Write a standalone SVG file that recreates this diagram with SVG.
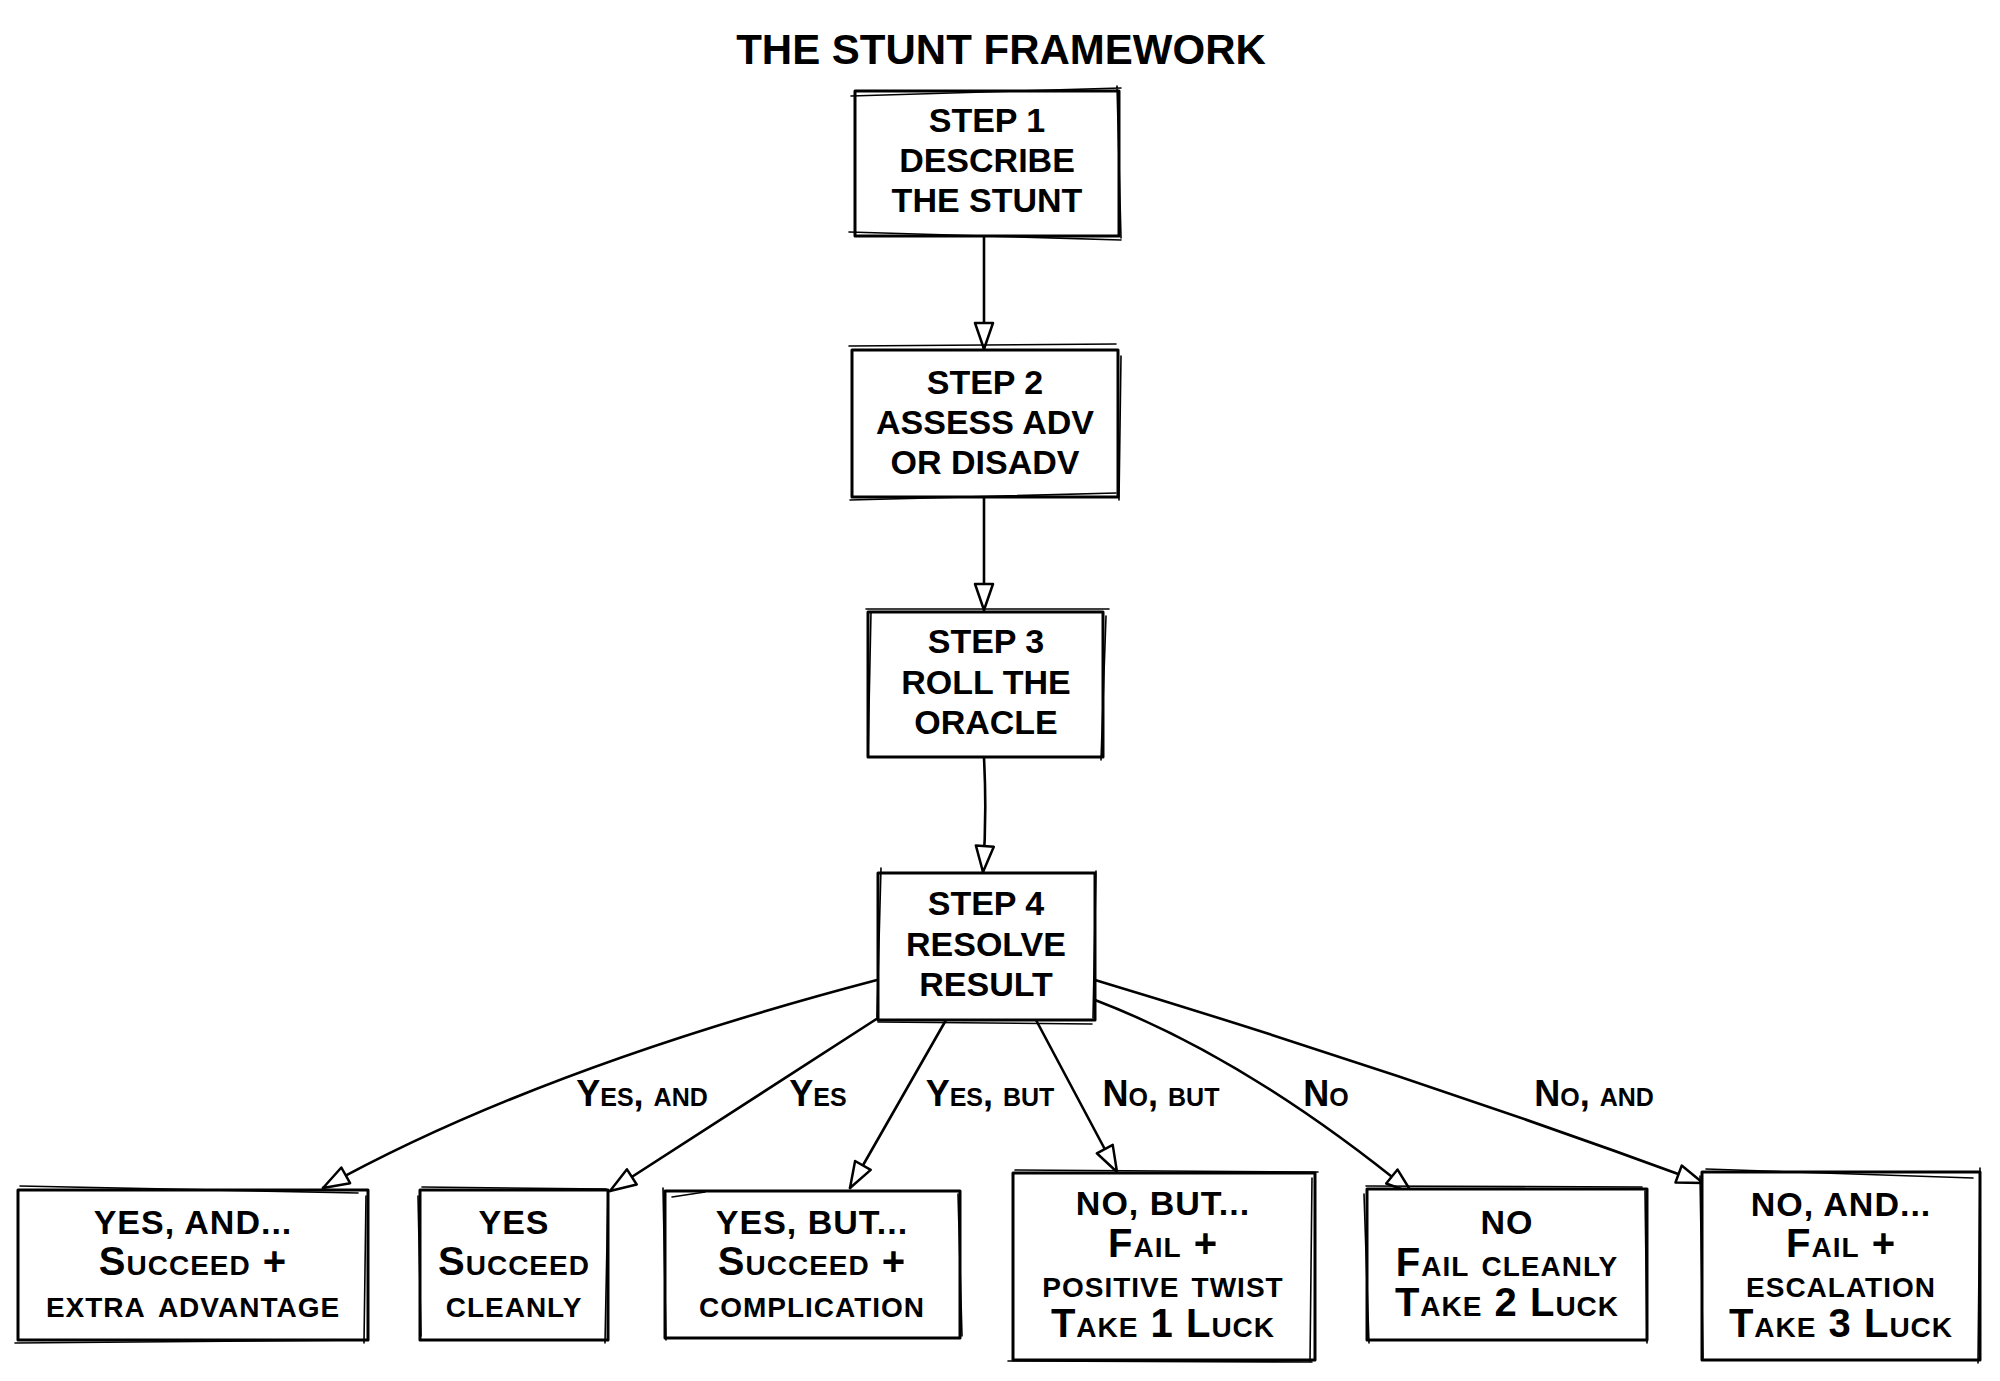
<svg xmlns="http://www.w3.org/2000/svg" width="2000" height="1381" viewBox="0 0 2000 1381">
<style>
.bg{fill:#ffffff}
.box{fill:#ffffff;stroke:#000000;stroke-width:3;stroke-linejoin:round}
.sk{fill:none;stroke:#000000;stroke-width:1.6;stroke-linecap:round}
.t{font-family:"Liberation Sans","Open Sans",sans-serif;font-weight:700;fill:#000000;text-anchor:middle}
.title{font-size:42px}
.step{font-size:34px}
.res{font-size:40px;font-variant:small-caps;letter-spacing:1px}
.cap{font-size:34px}
.lbl{font-size:36px;font-variant:small-caps}
.edge{fill:none;stroke:#000000;stroke-width:2.6;stroke-linecap:round;marker-end:url(#ah)}
</style>
<defs>
<marker id="ah" viewBox="0 0 30 22" refX="28" refY="11" markerWidth="30" markerHeight="22" markerUnits="userSpaceOnUse" orient="auto">
<path d="M2,2 L28,11 L2,20 Z" fill="#ffffff" stroke="#000000" stroke-width="2.5" stroke-linejoin="round"/>
</marker>
</defs>
<rect class="bg" x="0" y="0" width="2000" height="1381"/>

<g id="title">
<text class="t title" x="1001" y="64">THE STUNT FRAMEWORK</text>
</g>

<g id="connectors">
<path class="edge" d="M984,237 L984,349"/>
<path class="edge" d="M984,497 L984,610"/>
<path class="edge" d="M984,758 Q987,815 983,872"/>
<path class="edge" d="M877,980 Q535,1070 323,1188"/>
<path class="edge" d="M878,1018 L610,1191"/>
<path class="edge" d="M946,1020 L850,1188"/>
<path class="edge" d="M1036,1020 L1117,1172"/>
<path class="edge" d="M1095,1000 Q1247,1058 1412,1193"/>
<path class="edge" d="M1095,980 Q1401,1072 1703,1183"/>
<text class="t lbl" x="642" y="1106">Yes, and</text>
<text class="t lbl" x="818" y="1106">Yes</text>
<text class="t lbl" x="990" y="1106">Yes, but</text>
<text class="t lbl" x="1161" y="1106">No, but</text>
<text class="t lbl" x="1326" y="1106">No</text>
<text class="t lbl" x="1594" y="1106">No, and</text>
</g>

<g id="step1">
<rect class="box" x="855" y="91" width="264" height="145"/>
<path class="sk" d="M851,96 L1121,88 M1117,86 L1121,238 M1121,240 L849,232"/>
<text class="t step" x="987" y="132">STEP 1</text>
<text class="t step" x="987" y="172">DESCRIBE</text>
<text class="t step" x="987" y="212">THE STUNT</text>
</g>

<g id="step2">
<rect class="box" x="852" y="350" width="266" height="147"/>
<path class="sk" d="M849,346 L1116,344 M1121,356 L1119,500 M1116,493 L850,500"/>
<text class="t step" x="985" y="394">STEP 2</text>
<text class="t step" x="985" y="434">ASSESS ADV</text>
<text class="t step" x="985" y="474">OR DISADV</text>
</g>

<g id="step3">
<rect class="box" x="868" y="612" width="235" height="145"/>
<path class="sk" d="M866,609 L1109,609 M1106,616 L1101,760 M871,612 L868,757"/>
<text class="t step" x="986" y="653">STEP 3</text>
<text class="t step" x="986" y="694">ROLL THE</text>
<text class="t step" x="986" y="734">ORACLE</text>
</g>

<g id="step4">
<rect class="box" x="878" y="873" width="217" height="147"/>
<path class="sk" d="M881,868 L877,1017 M878,1022 L1092,1024 M1096,871 L1093,1018"/>
<text class="t step" x="986" y="915">STEP 4</text>
<text class="t step" x="986" y="956">RESOLVE</text>
<text class="t step" x="986" y="996">RESULT</text>
</g>

<g id="yes-and">
<rect class="box" x="18" y="1190" width="350" height="150"/>
<path class="sk" d="M20,1186 L358,1193 M366,1196 L364,1343 M15,1343 L366,1340"/>
<text class="t res cap" x="193" y="1234">YES, AND...</text>
<text class="t res" x="193" y="1275">Succeed +</text>
<text class="t res" x="193" y="1317">extra advantage</text>
</g>

<g id="yes">
<rect class="box" x="420" y="1190" width="188" height="150"/>
<path class="sk" d="M422,1187 L606,1189 M418,1196 L421,1336 M608,1192 L605,1343"/>
<text class="t res cap" x="514" y="1234">YES</text>
<text class="t res" x="514" y="1275">Succeed</text>
<text class="t res" x="514" y="1317">cleanly</text>
</g>

<g id="yes-but">
<rect class="box" x="665" y="1191" width="295" height="147"/>
<path class="sk" d="M672,1197 L705,1192 M663,1188 L666,1340 M958,1194 L962,1336"/>
<text class="t res cap" x="812" y="1234">YES, BUT...</text>
<text class="t res" x="812" y="1275">Succeed +</text>
<text class="t res" x="812" y="1317">complication</text>
</g>

<g id="no-but">
<rect class="box" x="1013" y="1173" width="302" height="187"/>
<path class="sk" d="M1015,1170 L1318,1172 M1312,1178 L1310,1362 M1008,1361 L1312,1362"/>
<text class="t res cap" x="1163" y="1215">NO, BUT...</text>
<text class="t res" x="1163" y="1257">Fail +</text>
<text class="t res" x="1163" y="1297">positive twist</text>
<text class="t res" x="1163" y="1337">Take 1 Luck</text>
</g>

<g id="no">
<rect class="box" x="1367" y="1189" width="280" height="151"/>
<path class="sk" d="M1366,1186 L1642,1187 M1364,1194 L1369,1343 M1645,1191 L1647,1343"/>
<text class="t res cap" x="1507" y="1234">NO</text>
<text class="t res" x="1507" y="1276">Fail cleanly</text>
<text class="t res" x="1507" y="1316">Take 2 Luck</text>
</g>

<g id="no-and">
<rect class="box" x="1702" y="1172" width="278" height="188"/>
<path class="sk" d="M1706,1169 L1973,1178 M1980,1168 L1978,1363 M1700,1176 L1703,1358"/>
<text class="t res cap" x="1841" y="1216">NO, AND...</text>
<text class="t res" x="1841" y="1257">Fail +</text>
<text class="t res" x="1841" y="1297">escalation</text>
<text class="t res" x="1841" y="1337">Take 3 Luck</text>
</g>
</svg>
